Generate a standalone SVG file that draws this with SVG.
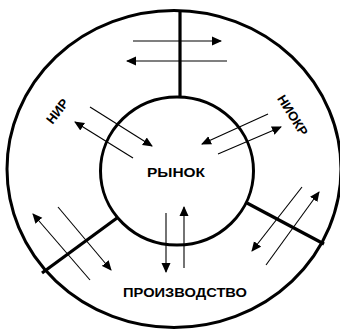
<svg xmlns="http://www.w3.org/2000/svg" width="340" height="335" viewBox="0 0 340 335">
<style>
.ring{fill:none;stroke:#000;stroke-width:3}
.div{stroke:#000;stroke-width:3.2;fill:none}
.arr{stroke:#000;stroke-width:1.1;fill:none;marker-end:url(#ah)}
.lbl{font-family:"Liberation Sans",Arial,sans-serif;font-weight:bold;font-size:13px;fill:#000;text-anchor:middle}
</style>
<defs>
<marker id="ah" viewBox="0 0 10 10" refX="9" refY="5" markerWidth="10" markerHeight="10" markerUnits="userSpaceOnUse" orient="auto">
<path d="M0,0.5 L10,5 L0,9.5 Z" fill="#000"/>
</marker>
</defs>
<g id="outer"><ellipse class="ring" cx="174" cy="169" rx="167" ry="158.5"/></g>
<g id="market">
<ellipse class="ring" cx="177" cy="171" rx="76.5" ry="74"/>
<text class="lbl" x="176" y="176.5" font-size="14" textLength="58" lengthAdjust="spacingAndGlyphs">РЫНОК</text>
</g>
<g id="dividers">
<line class="div" x1="180" y1="11" x2="180" y2="97"/>
<line class="div" x1="117" y1="218" x2="42" y2="273"/>
<line class="div" x1="247" y1="203" x2="324" y2="244"/>
</g>
<g id="nir"><text class="lbl" transform="translate(57,111) rotate(-52)" y="5" font-size="14">НИР</text></g>
<g id="niokr"><text class="lbl" transform="translate(293,115) rotate(58)" y="5" font-size="14">НИОКР</text></g>
<g id="production"><text class="lbl" x="185" y="296.5" font-size="14" textLength="124" lengthAdjust="spacingAndGlyphs">ПРОИЗВОДСТВО</text></g>
<g id="connectors">
<line class="arr" x1="133" y1="41" x2="221" y2="41"/>
<line class="arr" x1="227" y1="61" x2="127" y2="61"/>
<line class="arr" x1="90" y1="107" x2="152" y2="146"/>
<line class="arr" x1="133" y1="158" x2="75" y2="122"/>
<line class="arr" x1="268" y1="114" x2="202" y2="144"/>
<line class="arr" x1="218" y1="154" x2="281" y2="127"/>
<line class="arr" x1="166" y1="213" x2="166" y2="272"/>
<line class="arr" x1="184" y1="268" x2="184" y2="207"/>
<line class="arr" x1="90" y1="280" x2="33" y2="214"/>
<line class="arr" x1="58" y1="207" x2="111" y2="270"/>
<line class="arr" x1="302" y1="187" x2="252" y2="251"/>
<line class="arr" x1="266" y1="265" x2="319" y2="192"/>
</g>
</svg>
